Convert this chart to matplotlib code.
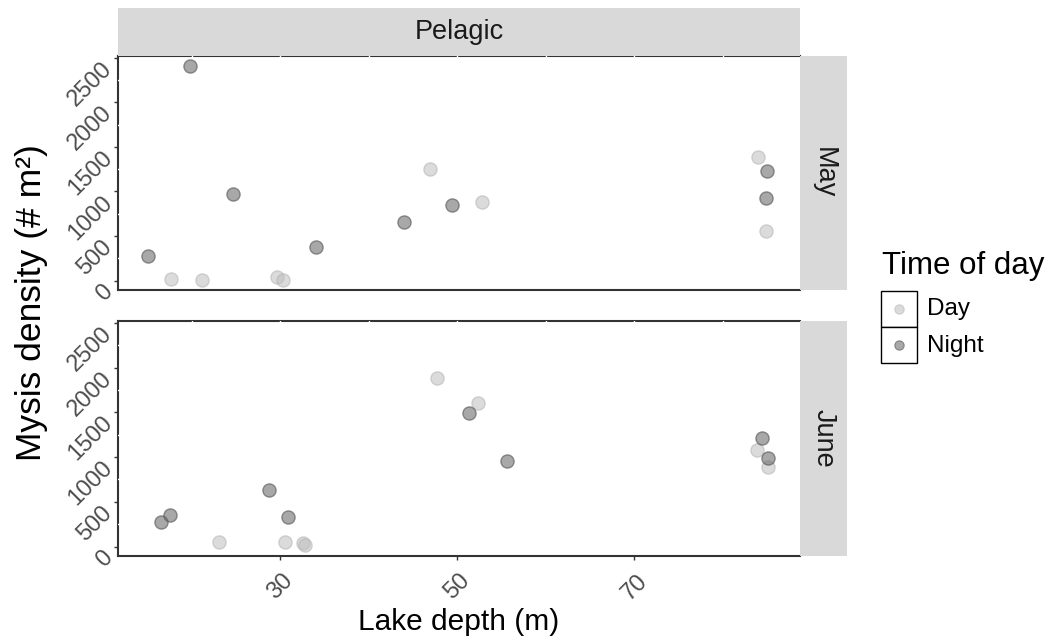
import matplotlib
matplotlib.use("Agg")
import matplotlib.pyplot as plt
from matplotlib.patches import Rectangle

plt.rcParams["font.family"] = ["Liberation Sans", "DejaVu Sans"]

W, H = 1050, 643

# lake depth (m) and Mysis density (# m^2), pelagic stations
may_day_depth = [17.7, 21.2, 29.6, 30.3, 46.9, 52.8, 84.0, 84.9]
may_day_density = [22, 8, 38, 8, 1257, 877, 1387, 559]
may_night_depth = [15.1, 19.8, 24.7, 34.1, 44.0, 49.4, 85.0, 84.9]
may_night_density = [276, 2409, 970, 373, 657, 847, 1227, 925]

june_day_depth = [23.1, 30.5, 32.6, 32.8, 47.7, 52.3, 83.9, 85.1]
june_day_density = [56, 56, 38, 19, 1886, 1600, 1083, 893]
june_night_depth = [16.5, 17.6, 28.7, 30.9, 51.3, 55.6, 84.4, 85.1]
june_night_density = [279, 354, 636, 335, 1492, 956, 1213, 990]

months = ["May", "June"]
times = ["Day", "Night"]
x_ticks = [30, 50, 70]
y_ticks = [0, 500, 1000, 1500, 2000, 2500]

series = {
    "May": {"Day": (may_day_depth, may_day_density),
            "Night": (may_night_depth, may_night_density)},
    "June": {"Day": (june_day_depth, june_day_density),
             "Night": (june_night_depth, june_night_density)},
}

face = {"Day": (0.75, 0.75, 0.75, 0.55), "Night": (0.43, 0.43, 0.43, 0.6)}
edge = {"Day": (0.70, 0.70, 0.70, 0.55), "Night": (0.32, 0.32, 0.32, 0.6)}
strip_col = "#d9d9d9"
text_col = "#4d4d4d"
line_col = "#333333"


def frac(x0, y0, x1, y1):
    # pixel box (top-left origin) -> figure fraction rect
    return [x0 / W, 1 - y1 / H, (x1 - x0) / W, (y1 - y0) / H]


fig = plt.figure(figsize=(W / 100, H / 100), dpi=100)

panel_rows = [(56, 290), (321, 556)]
axes = []
for month, (top, bot) in zip(months, panel_rows):
    ax = fig.add_axes(frac(118, top, 800, bot))
    axes.append(ax)
    for t in times:
        xs, ys = series[month][t]
        ax.scatter(xs, ys, s=90, facecolor=face[t], edgecolor=edge[t],
                   linewidth=1.0, zorder=5)
    ax.set_xlim(11.7, 88.7)
    ax.set_ylim(-105, 2520)
    ax.set_xticks(x_ticks)
    ax.set_yticks(y_ticks)
    ax.spines["right"].set_visible(False)
    for side in ["left", "top", "bottom"]:
        ax.spines[side].set_color(line_col)
        ax.spines[side].set_linewidth(1.5)
    ax.spines["bottom"].set_zorder(4)
    # white grid lines show through the frame
    for gx in range(20, 90, 10):
        ax.axvline(gx, color="white", lw=1.0, zorder=3)
    for gy in [250, 750, 1250, 1750, 2250]:
        ax.axhline(gy, color="white", lw=1.0, zorder=3)
    ax.tick_params(axis="y", length=3, width=1.0, color=line_col, pad=9,
                   labelsize=17, labelcolor=text_col)
    for lab in ax.get_yticklabels():
        lab.set_rotation(45)
        lab.set_ha("right")
        lab.set_va("top")
        lab.set_rotation_mode("anchor")
    ax.tick_params(axis="x", length=3, width=1.0, color=line_col, pad=7,
                   labelsize=17, labelcolor=text_col)
    for lab in ax.get_xticklabels():
        lab.set_rotation(45)
        lab.set_ha("center")

    # month strip on the right
    sax = fig.add_axes(frac(800, top, 847, bot))
    sax.set_facecolor(strip_col)
    sax.set_xticks([])
    sax.set_yticks([])
    for s in sax.spines.values():
        s.set_visible(False)
    sax.text(0.5, 0.5, month, rotation=-90, ha="center", va="center",
             fontsize=19.5, color="#1a1a1a", transform=sax.transAxes)

axes[0].tick_params(axis="x", bottom=False, labelbottom=False)

# habitat strip on top
tax = fig.add_axes(frac(118, 8, 800, 56))
tax.set_facecolor(strip_col)
tax.set_xticks([])
tax.set_yticks([])
for s in tax.spines.values():
    s.set_visible(False)
tax.text(0.5, 0.5, "Pelagic", ha="center", va="center", fontsize=19.5,
         color="#1a1a1a", transform=tax.transAxes)

fig.text(459 / W, 1 - 622 / H, "Lake depth (m)", ha="center", va="center",
         fontsize=21.5, color="black")
fig.text(32 / W, 1 - 303 / H, "Mysis density (# m\u00b2)", ha="center",
         va="center", rotation=90, fontsize=25.5, color="black")

# legend
fig.text(882 / W, 1 - 266 / H, "Time of day", ha="left", va="center",
         fontsize=22.5, color="black")
lax = fig.add_axes(frac(881, 291, 917, 363))
lax.set_xlim(0, 1)
lax.set_ylim(0, len(times))
lax.axis("off")
for i, t in enumerate(times):
    yc = len(times) - i - 0.5
    lax.add_patch(Rectangle((0, yc - 0.5), 1, 1, facecolor="white",
                            edgecolor="black", lw=1.0, clip_on=False))
    lax.scatter([0.5], [yc], s=45, facecolor=face[t], edgecolor=edge[t],
                linewidth=0.8, zorder=3)
    fig.text(927 / W, 1 - (309 + 37 * i) / H, t, ha="left", va="center",
             fontsize=17.5, color="black")

fig.savefig("out.png", dpi=100)
